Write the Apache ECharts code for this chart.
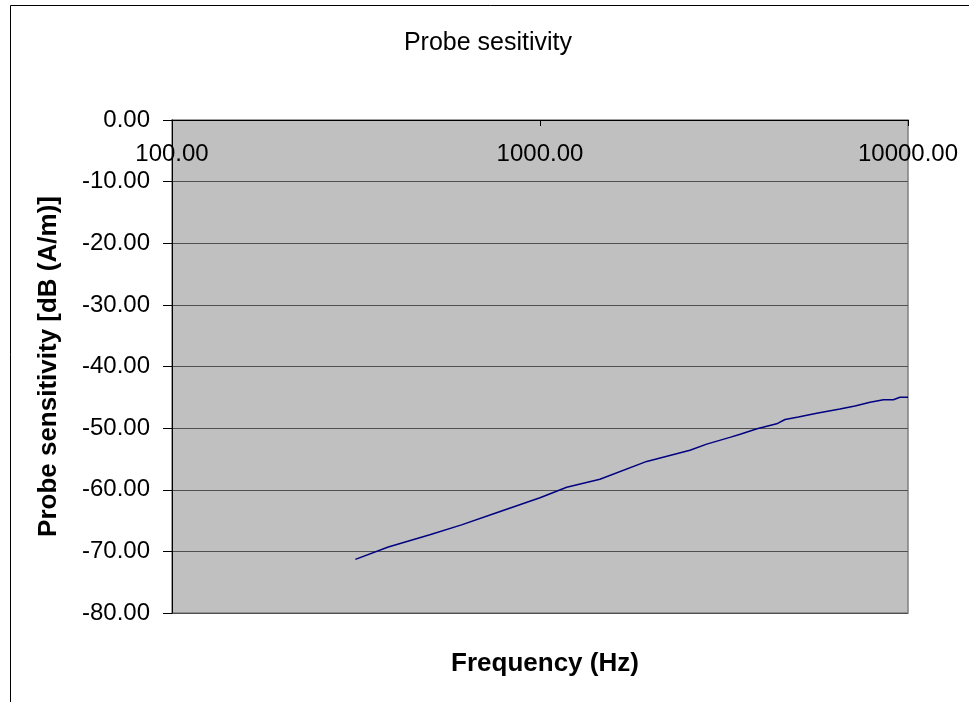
<!DOCTYPE html>
<html>
<head>
<meta charset="utf-8">
<script src="https://cdn.jsdelivr.net/npm/echarts@6/dist/echarts.min.js"></script>
<style>
html,body{margin:0;padding:0;background:#fff;}
#chart{width:969px;height:702px;}
</style>
</head>
<body>
<div id="chart"></div>
<script>
var titleText = 'Probe sesitivity';
var xAxisTitle = 'Frequency (Hz)';
var yAxisTitle = 'Probe sensitivity [dB (A/m)]';
var frequency = [315, 387, 502, 612, 755, 1000, 1182, 1455, 1950, 2556, 2838, 3281, 3500, 3888, 4397, 4633, 5035, 5649, 6531, 7178, 7888, 8577, 9128, 9508, 10000];
var sensitivity = [-71.3, -69.3, -67.3, -65.7, -63.8, -61.3, -59.6, -58.3, -55.4, -53.6, -52.6, -51.5, -51.0, -50.1, -49.3, -48.6, -48.2, -47.6, -46.9, -46.4, -45.8, -45.4, -45.4, -45.0, -45.0];
var xMin = 100, xMax = 10000;
var yMin = -80, yMax = 0, yStep = 10;

var seriesData = frequency.map(function (f, i) { return [f, sensitivity[i]]; });
var font = 'Liberation Sans, Arial, sans-serif';

var chart = echarts.init(document.getElementById('chart'), null, {renderer: 'canvas'});
chart.setOption({
  animation: false,
  backgroundColor: '#ffffff',
  title: [
    {text: titleText, left: 483, top: 26, textAlign: 'center',
     textStyle: {fontFamily: font, fontSize: 25, fontWeight: 'normal', color: '#000'}},
    {text: xAxisTitle, left: 540, top: 646, textAlign: 'center',
     textStyle: {fontFamily: font, fontSize: 26, fontWeight: 'bold', color: '#000'}}
  ],
  graphic: [
    {type: 'rect', left: 8, top: 3, silent: true, z: -1,
     shape: {width: 1100, height: 900},
     style: {fill: 'none', stroke: '#000', lineWidth: 1}}
  ],
  grid: {left: 172, right: 61, top: 120, bottom: 89, show: true,
         backgroundColor: '#C0C0C0', borderColor: '#808080', borderWidth: 1.5},
  xAxis: {
    type: 'log', logBase: 10, min: xMin, max: xMax, position: 'top',
    axisLine: {show: true, onZero: false, lineStyle: {color: '#000', width: 1}},
    axisTick: {show: true, inside: true, length: 6, lineStyle: {color: '#000'}},
    minorTick: {show: false},
    splitLine: {show: false},
    axisLabel: {inside: true, margin: 22, color: '#000', fontFamily: font, fontSize: 24,
      formatter: function (v) { return Number(v).toFixed(2); }}
  },
  yAxis: {
    type: 'value', min: yMin, max: yMax, interval: yStep,
    name: yAxisTitle, nameLocation: 'middle', nameRotate: 90, nameGap: 110,
    nameTextStyle: {fontFamily: font, fontSize: 26, fontWeight: 'bold', color: '#000'},
    axisLine: {show: true, onZero: false, lineStyle: {color: '#000', width: 1}},
    axisTick: {show: true, length: 9, lineStyle: {color: '#000'}},
    splitLine: {show: true, lineStyle: {color: '#505050', width: 1}},
    axisLabel: {margin: 22, color: '#000', fontFamily: font, fontSize: 24,
      formatter: function (v) { return Number(v).toFixed(2); }}
  },
  series: [{
    type: 'line', data: seriesData, symbol: 'none', smooth: false,
    lineStyle: {color: '#000080', width: 1.5}
  }]
});
</script>
</body>
</html>
